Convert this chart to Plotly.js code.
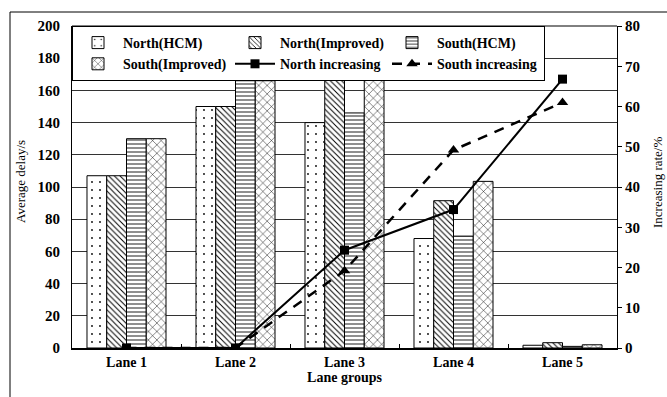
<!DOCTYPE html>
<html><head><meta charset="utf-8">
<script src="https://cdn.plot.ly/plotly-3.0.1.min.js"></script>
<style>html,body{margin:0;padding:0;background:#fff}#c{width:667px;height:397px}</style>
</head><body><div id="c"></div>
<script>
var categories = ["Lane 1", "Lane 2", "Lane 3", "Lane 4", "Lane 5"];
var northHCM = [107, 150, 140, 68, 1.7];
var northImproved = [107, 150, 173.5, 91.5, 3.3];
var southHCM = [130, 166, 146, 69.5, 1.0];
var southImproved = [130, 166, 175.5, 103.5, 2.0];
var northIncreasing = [0, 0, 24.3, 34.4, 66.8];
var southIncreasing = [0, 0, 19.2, 49.2, 61.0];

var F = "Liberation Serif, Times New Roman, serif";
function bar(name, y, shape, size, sol) {
  return {type: "bar", name: name, x: categories, y: y,
    marker: {color: "#ffffff", line: {color: "#000", width: 1},
      pattern: {shape: shape, fgcolor: "#000", bgcolor: "#fff", size: size, solidity: sol}}};
}
var traces = [
  bar("North(HCM)", northHCM, ".", 8, 0.04),
  bar("North(Improved)", northImproved, "\\", 4, 0.25),
  bar("South(HCM)", southHCM, "-", 4, 0.22),
  bar("South(Improved)", southImproved, "x", 6, 0.15),
  {type: "scatter", mode: "lines+markers", name: "North increasing", x: categories, y: northIncreasing, yaxis: "y2",
    line: {color: "#000", width: 2}, marker: {symbol: "square", size: 9, color: "#000"}},
  {type: "scatter", mode: "lines+markers", name: "South increasing", x: categories, y: southIncreasing, yaxis: "y2",
    line: {color: "#000", width: 2.5, dash: "10px,8px"}, marker: {symbol: "triangle-up", size: 10, color: "#000"}}
];
var layout = {
  width: 667, height: 397,
  margin: {l: 72, r: 50, t: 26, b: 49},
  paper_bgcolor: "#fff", plot_bgcolor: "#fff",
  barmode: "group", bargap: 0.275, bargroupgap: 0,
  font: {family: F, color: "#000", size: 13},
  showlegend: true,
  legend: {orientation: "h", x: 0, y: 1, xanchor: "left", yanchor: "top",
    entrywidth: 102, bgcolor: "#fff", bordercolor: "#000", borderwidth: 1,
    font: {family: F, size: 14, weight: "bold"}, tracegroupgap: 0, itemwidth: 40},
  xaxis: {showline: true, linecolor: "#000", linewidth: 2, mirror: false,
    ticks: "inside", ticklen: 4, tickcolor: "#000", tickson: "boundaries",
    tickfont: {family: F, size: 14, weight: "bold"},
    title: {text: "Lane groups", font: {family: F, size: 14, weight: "bold"}, standoff: 0}},
  yaxis: {range: [0, 200], dtick: 20, showgrid: true, gridcolor: "#333", gridwidth: 1,
    showline: true, linecolor: "#000", linewidth: 1, ticks: "", zeroline: false,
    tickfont: {family: F, size: 15, weight: "bold"}, ticklabelstandoff: 8},
  yaxis2: {range: [0, 80], dtick: 10, overlaying: "y", side: "right", showgrid: false,
    showline: true, linecolor: "#000", linewidth: 1, ticks: "outside", ticklen: 4, tickcolor: "#000",
    zeroline: false, tickfont: {family: F, size: 15, weight: "bold"}},
  annotations: [
    {text: "Average delay/s", xref: "paper", yref: "paper", x: (20 - 72) / 545, y: (397 - 49 - 182) / 322,
      textangle: -90, showarrow: false, font: {family: F, size: 13}, xanchor: "center", yanchor: "middle"},
    {text: "Increasing rate/%", xref: "paper", yref: "paper", x: (657 - 72) / 545, y: (397 - 49 - 183) / 322,
      textangle: -90, showarrow: false, font: {family: F, size: 13}, xanchor: "center", yanchor: "middle"}
  ],
  shapes: [
    {type: "rect", xref: "paper", yref: "paper", x0: (10 - 72) / 545, x1: (680 - 72) / 545,
      y0: -0.2, y1: 1 + (26 - 12) / 322, line: {color: "#000", width: 1}, fillcolor: "rgba(0,0,0,0)", layer: "below"},
    {type: "line", xref: "paper", yref: "paper", x0: 0, x1: 1, y0: 1, y1: 1, line: {color: "#000", width: 1}}
  ]
};
Plotly.newPlot("c", traces, layout, {displayModeBar: false, staticPlot: true});
</script></body></html>
